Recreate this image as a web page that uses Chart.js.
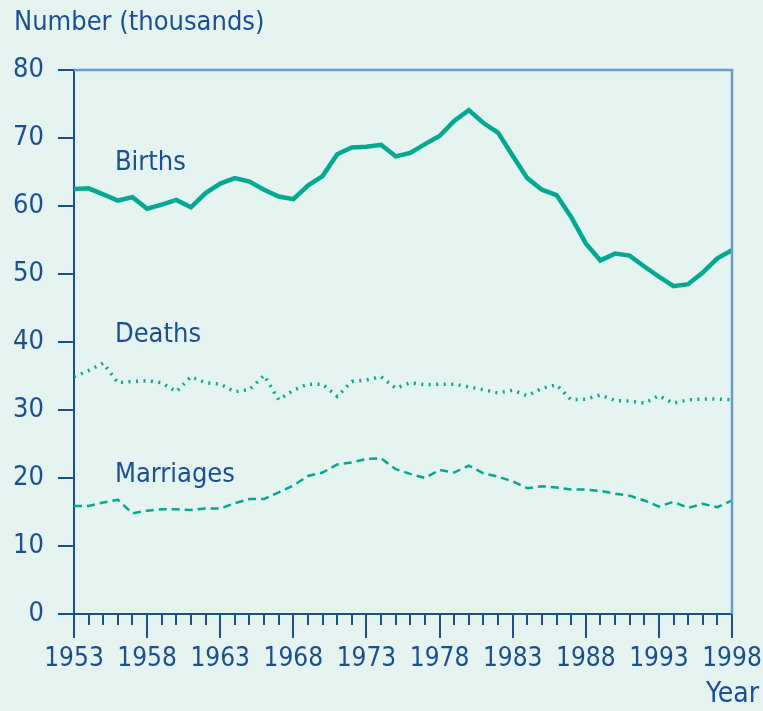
<!DOCTYPE html>
<html>
<head>
<meta charset="utf-8">
<script src="https://cdn.jsdelivr.net/npm/chart.js@4"></script>
<style>
  body { margin: 0; background: #e5f4f1; }
  canvas { display: block; }
</style>
</head>
<body>
<canvas id="myChart" width="763" height="711"></canvas>
<script>
const years = [1953, 1954, 1955, 1956, 1957, 1958, 1959, 1960, 1961, 1962,
    1963, 1964, 1965, 1966, 1967, 1968, 1969, 1970, 1971, 1972,
    1973, 1974, 1975, 1976, 1977, 1978, 1979, 1980, 1981, 1982,
    1983, 1984, 1985, 1986, 1987, 1988, 1989, 1990, 1991, 1992,
    1993, 1994, 1995, 1996, 1997, 1998];
const births = [62.5, 62.6, 61.7, 60.8, 61.3, 59.6, 60.2, 60.9, 59.8, 61.9,
    63.3, 64.1, 63.6, 62.4, 61.4, 61.0, 63.0, 64.4, 67.6, 68.6,
    68.7, 69.0, 67.3, 67.8, 69.1, 70.3, 72.5, 74.1, 72.2, 70.8,
    67.4, 64.1, 62.4, 61.6, 58.4, 54.5, 52.0, 53.0, 52.7, 51.1,
    49.6, 48.2, 48.5, 50.2, 52.3, 53.5];
const deaths = [34.9, 35.8, 36.9, 34.0, 34.2, 34.3, 34.0, 32.7, 34.9, 34.0,
    33.8, 32.7, 33.0, 35.1, 31.5, 32.9, 33.8, 33.8, 32.0, 34.2,
    34.4, 34.9, 33.2, 34.0, 33.7, 33.8, 33.8, 33.4, 33.0, 32.5,
    32.9, 32.1, 33.2, 33.7, 31.5, 31.6, 32.2, 31.4, 31.3, 31.0,
    32.1, 31.0, 31.5, 31.6, 31.6, 31.5];
const marriages = [15.9, 15.9, 16.4, 16.8, 14.8, 15.2, 15.4, 15.4, 15.3, 15.5,
    15.5, 16.3, 16.9, 16.9, 17.9, 18.9, 20.3, 20.8, 22.0, 22.3,
    22.8, 22.9, 21.3, 20.6, 20.0, 21.2, 20.8, 21.8, 20.7, 20.2,
    19.5, 18.5, 18.8, 18.6, 18.3, 18.3, 18.1, 17.7, 17.4, 16.7,
    15.8, 16.5, 15.6, 16.2, 15.7, 16.7];
const seriesNames = ['Births', 'Deaths', 'Marriages'];
// where the series names sit, in data units (year, thousands)
const nameSpots = [[1955.8, 66.3], [1955.8, 41.0], [1955.8, 20.4]];

const FONT = "'DejaVu Sans Condensed', 'DejaVu Sans', sans-serif";
const BLUE = '#1b4f93';
const TEAL = '#00a991';

const toPoints = arr => arr.map((v, i) => ({ x: years[i], y: v }));

const extras = {
    id: 'extras',
    beforeDraw(chart) {
        const c = chart.ctx;
        c.save();
        c.fillStyle = '#e5f4f1';
        c.fillRect(0, 0, chart.width, chart.height);
        c.restore();
    },
    afterDraw(chart) {
        const c = chart.ctx;
        const x = chart.scales.x, y = chart.scales.y;
        const a = chart.chartArea;
        c.save();
        // frame top + right
        c.strokeStyle = '#6b9bcb';
        c.lineWidth = 2.5;
        c.beginPath();
        c.moveTo(a.left, a.top);
        c.lineTo(a.right, a.top);
        c.lineTo(a.right, a.bottom);
        c.stroke();
        // yearly minor ticks
        c.strokeStyle = BLUE;
        c.lineWidth = 2;
        years.forEach(yr => {
            const px = Math.round(x.getPixelForValue(yr));
            c.beginPath();
            c.moveTo(px, a.bottom);
            c.lineTo(px, a.bottom + 11);
            c.stroke();
        });
        // series names
        c.fillStyle = BLUE;
        c.font = '27px ' + FONT;
        c.textBaseline = 'middle';
        c.textAlign = 'left';
        seriesNames.forEach((n, i) => {
            c.fillText(n, x.getPixelForValue(nameSpots[i][0]), y.getPixelForValue(nameSpots[i][1]));
        });
        // axis titles
        c.font = '27px ' + FONT;
        c.textBaseline = 'top';
        c.fillText('Number (thousands)', 14, 9);
        c.textAlign = 'right';
        c.textBaseline = 'middle';
        c.font = '28px ' + FONT;
        c.fillText('Year', 759, 695);
        c.restore();
    }
};

const ctx = document.getElementById('myChart').getContext('2d');
const myChart = new Chart(ctx, {
    type: 'line',
    data: {
        datasets: [{
            label: 'Births',
            data: toPoints(births),
            borderColor: TEAL,
            borderWidth: 4.5,
            pointRadius: 0
        }, {
            label: 'Deaths',
            data: toPoints(deaths),
            borderColor: TEAL,
            borderWidth: 3.5,
            borderDash: [2, 5.5],
            pointRadius: 0
        }, {
            label: 'Marriages',
            data: toPoints(marriages),
            borderColor: TEAL,
            borderWidth: 2.5,
            borderDash: [8, 5],
            pointRadius: 0
        }]
    },
    options: {
        responsive: false,
        animation: false,
        layout: { padding: { top: 70, right: 31, left: 0, bottom: 0 } },
        plugins: {
            legend: { display: false },
            tooltip: { enabled: false }
        },
        scales: {
            x: {
                type: 'linear',
                min: 1953,
                max: 1998,
                afterFit: s => { s.height = 97; s.paddingLeft = 0; s.paddingRight = 0; },
                ticks: {
                    stepSize: 5,
                    autoSkip: false,
                    maxRotation: 0,
                    padding: 6,
                    color: BLUE,
                    font: { family: FONT, size: 26 },
                    callback: v => String(v)
                },
                grid: { drawOnChartArea: false, tickLength: 24, color: BLUE, lineWidth: 2 },
                border: { color: BLUE, width: 2 }
            },
            y: {
                min: 0,
                max: 80,
                afterFit: s => { s.width = 74; s.paddingTop = 0; s.paddingBottom = 0; },
                ticks: {
                    stepSize: 10,
                    padding: 14,
                    color: BLUE,
                    font: { family: FONT, size: 27 }
                },
                grid: { drawOnChartArea: false, tickLength: 16, color: BLUE, lineWidth: 2 },
                border: { color: BLUE, width: 2 }
            }
        }
    },
    plugins: [extras]
});
</script>
</body>
</html>
